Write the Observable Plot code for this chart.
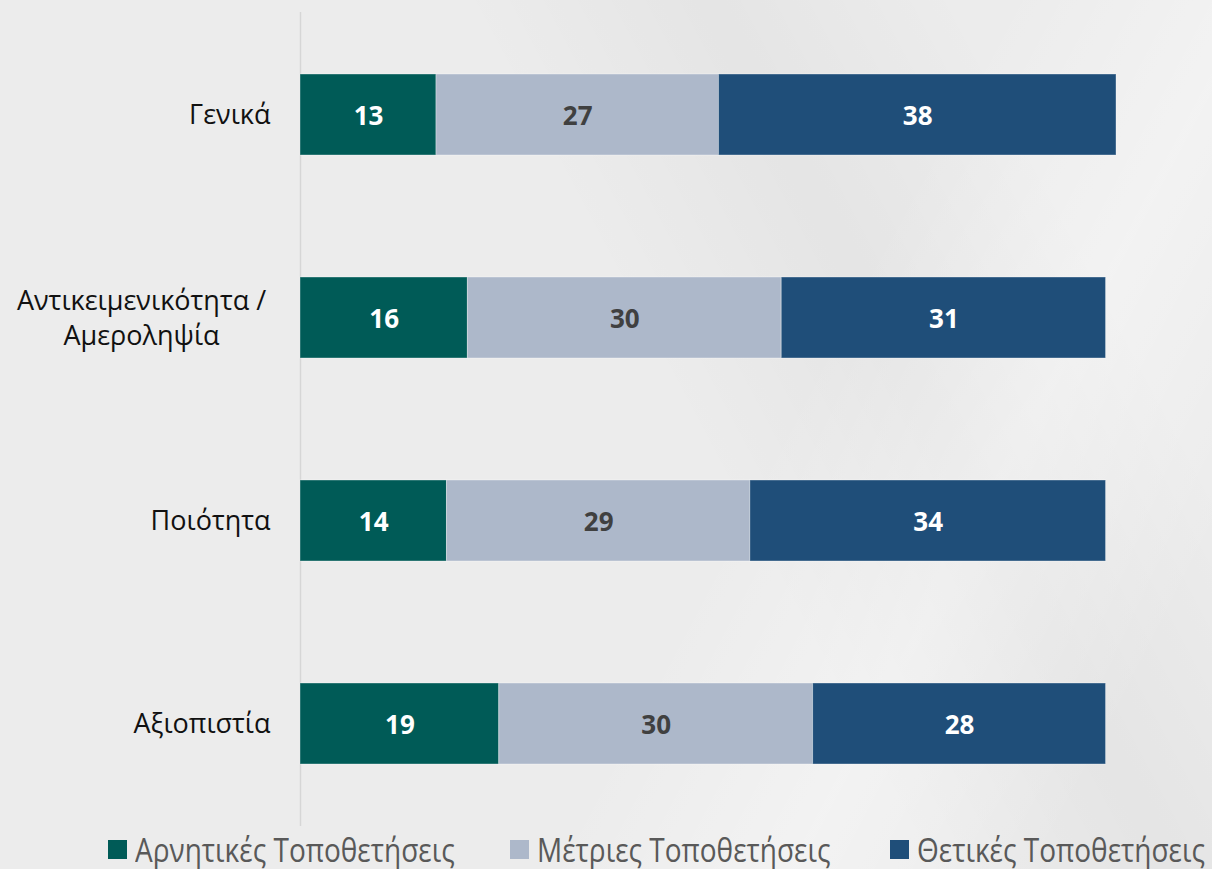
<!DOCTYPE html>
<html>
<head>
<meta charset="utf-8">
<script src="https://cdn.jsdelivr.net/npm/d3@7"></script>
<script src="https://cdn.jsdelivr.net/npm/@observablehq/plot@0.6"></script>
<style>
  html, body { margin: 0; padding: 0; }
  body {
    width: 1212px; height: 869px; overflow: hidden; position: relative;
    background:
      linear-gradient(118deg, rgba(255,255,255,0) 60%, rgba(255,255,255,0.35) 75%, rgba(255,255,255,0) 90%),
      linear-gradient(62deg, rgba(0,0,0,0) 55%, rgba(0,0,0,0.03) 70%, rgba(0,0,0,0) 85%),
      #ececec;
    font-family: "Open Sans", sans-serif;
  }
  #chart svg { display: block; background: transparent; }
  #legend {
    position: relative; height: 39px;
    font-family: "Open Sans", sans-serif;
    font-size: 32px; color: #595959;
  }
  .item { position: absolute; top: 0; height: 39px; display: flex; align-items: center; white-space: nowrap; }
  .sw { width: 19px; height: 19px; margin-right: 8px; flex: none; }
  .lt { display: inline-block; transform: scaleX(0.875); transform-origin: left center; }
</style>
</head>
<body>
<div id="chart"></div>
<div id="legend"></div>
<script>
const categories = ["Γενικά", "Αντικειμενικότητα /\nΑμεροληψία", "Ποιότητα", "Αξιοπιστία"];
const series = ["Αρνητικές Τοποθετήσεις", "Μέτριες Τοποθετήσεις", "Θετικές Τοποθετήσεις"];
const negative = [13, 16, 14, 19];
const moderate = [27, 30, 29, 30];
const positive = [38, 31, 34, 28];
const colors = ["#005b57", "#adb8ca", "#1f4e79"];
const labelColors = ["#ffffff", "#404040", "#ffffff"];
const legendLeft = [108, 510, 890];

const values = [negative, moderate, positive];
const rows = [];
categories.forEach((c, i) => {
  let acc = 0;
  series.forEach((s, j) => {
    const v = values[j][i];
    rows.push({cat: c, series: s, value: v, x1: acc, x2: acc + v, si: j});
    acc += v;
  });
});

const single = categories.filter(c => !c.includes("\n"));
const multi = categories.filter(c => c.includes("\n"));

const plot = Plot.plot({
  width: 1212,
  height: 830,
  marginLeft: 300,
  marginRight: 96,
  marginTop: 12,
  marginBottom: 4,
  style: {background: "transparent", fontFamily: "Open Sans, sans-serif"},
  x: {domain: [0, 78], axis: null},
  y: {domain: categories, padding: 0.6, paddingOuter: 0.3, axis: null},
  color: {domain: series, range: colors},
  marks: [
    Plot.ruleX([0], {stroke: "#d6d6d6", strokeWidth: 1.5}),
    Plot.barX(rows, {y: "cat", x1: "x1", x2: "x2", fill: "series", stroke: "#ffffff", strokeOpacity: 0.35, strokeWidth: 1, inset: 0}),
    ...series.map((s, j) => Plot.text(rows.filter(r => r.si === j), {
      y: "cat", x: d => (d.x1 + d.x2) / 2, text: d => String(d.value),
      fill: labelColors[j], fontSize: 26, fontWeight: "bold", dy: 2
    })),
    Plot.text(single, {y: d => d, x: 0, text: d => d, dx: -30, textAnchor: "end", fontSize: 27, fill: "#111111"}),
    Plot.text(multi, {y: d => d, x: 0, text: d => d, dx: -159, textAnchor: "middle", fontSize: 27, lineHeight: 1.33, fill: "#111111", dy: -2})
  ]
});
document.getElementById("chart").appendChild(plot);

const legend = document.getElementById("legend");
series.forEach((s, j) => {
  const it = document.createElement("div");
  it.className = "item";
  it.style.left = legendLeft[j] + "px";
  const sw = document.createElement("div");
  sw.className = "sw";
  sw.style.background = colors[j];
  const t = document.createElement("span");
  t.className = "lt";
  t.textContent = s;
  it.appendChild(sw); it.appendChild(t);
  legend.appendChild(it);
});
</script>
</body>
</html>
